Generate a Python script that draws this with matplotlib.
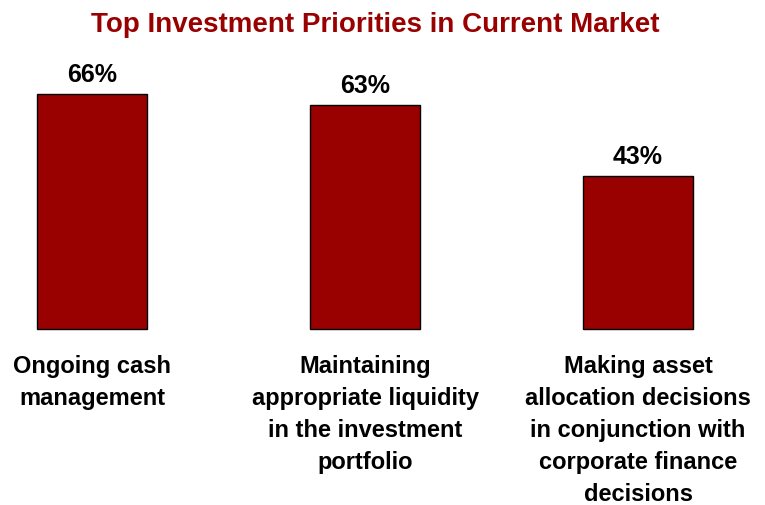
import matplotlib
matplotlib.use("Agg")
import matplotlib.pyplot as plt

categories = [
    "Ongoing cash\nmanagement",
    "Maintaining\nappropriate liquidity\nin the investment\nportfolio",
    "Making asset\nallocation decisions\nin conjunction with\ncorporate finance\ndecisions",
]
values = [66, 63, 43]
value_labels = ["66%", "63%", "43%"]
title = "Top Investment Priorities in Current Market"

FONT = ["Liberation Sans Narrow", "Liberation Sans", "DejaVu Sans"]
BAR_COLOR = "#990000"
TITLE_COLOR = "#990000"

fig = plt.figure(figsize=(7.65, 5.06), dpi=100)
ax = fig.add_axes([0, 0, 1, 1])
ax.set_xlim(-0.337, 2.465)
ax.set_ylim(-49.4, 92.7)
ax.axis("off")

x = list(range(len(values)))
ax.bar(x, values, width=0.403, color=BAR_COLOR, edgecolor="black", linewidth=1.0)

for xi, v, lab in zip(x, values, value_labels):
    ax.annotate(lab, (xi, v), xytext=(0, 9.5), textcoords="offset points",
                ha="center", va="baseline", fontsize=18, fontweight="bold",
                family=FONT, color="black")

for xi, cat in zip(x, categories):
    ax.text(xi, -7.0, cat, ha="center", va="top", fontsize=17,
            fontweight="bold", family=FONT, color="black", linespacing=1.5)

fig.text(0.49, 0.951, title, ha="center", va="center", fontsize=20,
         fontweight="bold", family=FONT, color=TITLE_COLOR)

fig.savefig("out.png", dpi=100)
